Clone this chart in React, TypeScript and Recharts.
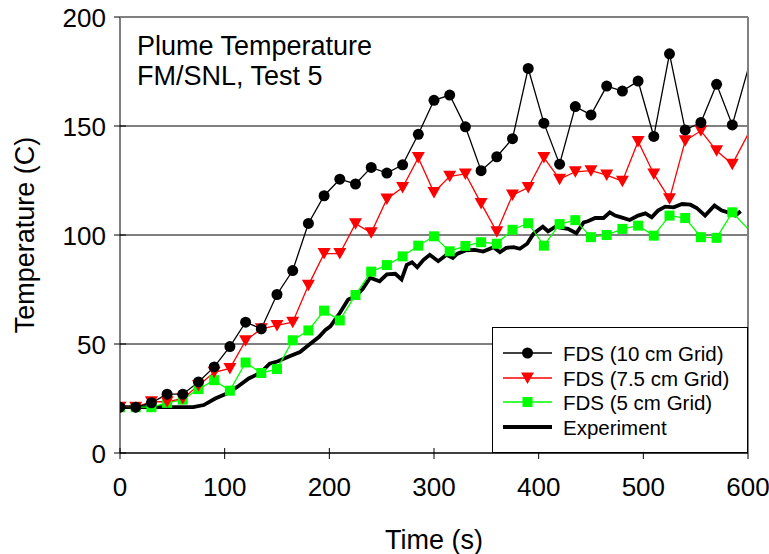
import { CartesianGrid, Line, LineChart, XAxis, YAxis } from "recharts";

const fdsTime = [
  0, 15, 30, 45, 60, 75, 90, 105, 120, 135, 150, 165, 180, 195, 210, 225, 240, 255, 270, 285, 300,
  315, 330, 345, 360, 375, 390, 405, 420, 435, 450, 465, 480, 495, 510, 525, 540, 555, 570, 585, 600
];
const fds10cm = [
  21, 21, 23, 27, 27, 32.6, 39.5, 48.8, 60, 57, 72.7, 83.7, 105.3, 118, 125.6, 123.4, 131, 128.4, 132.2, 146.2, 161.8,
  164.2, 149.6, 129.5, 135.9, 144.2, 176.4, 151.3, 132.5, 158.9, 155.1, 168.3, 166, 170.6, 145.2, 183.1, 148.2, 151.6, 169.1, 150.5, 176
];
const fds75cm = [
  21, 21, 23.5, 23.5, 25, 31, 37, 38.8, 51.5, 57, 58.5, 60, 76.9, 91.5, 91.5, 105.2, 101, 116.5, 121.8, 135.5, 119.5,
  126.9, 128, 114.5, 101.5, 118.3, 121.8, 135.5, 125.6, 129, 129.5, 127.5, 124.7, 142.9, 128, 116.6, 143.2, 147.8, 138.6, 132.5, 146.2
];
const fds5cm = [
  21, 21, 21, 23, 24.5, 29.3, 33.4, 28.6, 41.5, 36.7, 38.5, 51.7, 56.2, 65.3, 60.8, 72.5, 83.2, 86.2, 90.2, 95.1, 99.4,
  92.5, 95, 96.7, 96, 102.4, 105.4, 95.1, 105, 106.8, 99, 100, 102.8, 104.3, 99.7, 108.9, 107.8, 99, 98.7, 110.4, 102.8
];

const expTime = [
  0, 70, 80, 91, 102, 112, 123, 134, 143, 151, 162, 172, 180, 190, 196, 201, 210, 218, 225, 232, 239, 248, 255, 263,
  269, 274, 279, 284, 290, 296, 304, 312, 318, 322, 330, 339, 347, 357, 363, 369, 376, 382, 389, 395, 400, 404, 409,
  416, 422, 428, 436, 443, 447, 454, 462, 468, 473, 479, 487, 495, 502, 508, 514, 521, 529, 537, 545, 551, 559, 568,
  575, 581, 588, 593
];
const expTemp = [
  21, 21, 22, 25, 27.3, 30.3, 34.2, 36.7, 41, 42.1, 44.4, 46.3, 49.4, 53.2, 56.3, 58.1, 64.2, 70.4, 71.8, 75.3, 80.4,
  78.8, 81.9, 82.2, 79.6, 86.3, 87.5, 85.2, 88.6, 90.9, 88, 90.9, 89.5, 91.3, 92.9, 93.2, 92.4, 94.4, 92.1, 94.1, 94.4,
  93.7, 96, 100.5, 102.4, 103.8, 101.7, 103.8, 103.3, 102.8, 100.8, 105.8, 106.3, 107.8, 107.8, 110.4, 108.9, 108.1,
  106.9, 108.9, 109.9, 108.1, 111.2, 113, 112.7, 114.2, 113.9, 112.4, 108.9, 113.5, 111.2, 110.4, 108.9, 110.9
];

const xTicks = [0, 100, 200, 300, 400, 500, 600];
const yTicks = [0, 50, 100, 150, 200];

const legendItems = ["FDS (10 cm Grid)", "FDS (7.5 cm Grid)", "FDS (5 cm Grid)", "Experiment"];

const FONT = "'Liberation Sans', Arial, sans-serif";
const W = 769;
const H = 554;
const PLOT = { left: 120, right: 748, top: 17, bottom: 453 };

const toPoints = (xs: number[], ys: number[]) => xs.map((x, i) => ({ t: x, temp: ys[i] }));

const data10 = toPoints(fdsTime, fds10cm);
const data75 = toPoints(fdsTime, fds75cm);
const data5 = toPoints(fdsTime, fds5cm);
const dataExp = toPoints(expTime, expTemp);

function circleMark(cx: number, cy: number) {
  return <circle cx={cx} cy={cy} r={5.5} fill="#000" />;
}
function triangleMark(cx: number, cy: number) {
  return <path d={`M${cx - 6.5},${cy - 5.5} L${cx + 6.5},${cy - 5.5} L${cx},${cy + 6} Z`} fill="#ff0000" />;
}
function squareMark(cx: number, cy: number) {
  return <rect x={cx - 5} y={cy - 5} width={10} height={10} fill="#00ff00" />;
}

// the last sample sits on the right frame, Excel shows no marker there
function makeDot(mark: (cx: number, cy: number) => JSX.Element, count: number) {
  return (props: any) => {
    const { cx, cy, index } = props;
    if (index === count - 1 || cx == null || cy == null) return <g key={`d${index}`} />;
    return <g key={`d${index}`}>{mark(cx, cy)}</g>;
  };
}

function XTick(props: any) {
  const x = props.payload.coordinate;
  return (
    <g>
      <line x1={x} x2={x} y1={PLOT.bottom - 5} y2={PLOT.bottom + 6} stroke="#000" strokeWidth={1} />
      <text x={x} y={496} textAnchor="middle" fontSize={26} fontFamily={FONT} fill="#000">
        {props.payload.value}
      </text>
    </g>
  );
}

function YTick(props: any) {
  const y = props.payload.coordinate;
  return (
    <g>
      <line x1={PLOT.left - 6} x2={PLOT.left + 6} y1={y} y2={y} stroke="#000" strokeWidth={1} />
      <text x={106} y={y + 10} textAnchor="end" fontSize={26} fontFamily={FONT} fill="#000">
        {props.payload.value}
      </text>
    </g>
  );
}

export default function App() {
  const rowY = [353, 378, 402, 427];
  return (
    <div style={{ position: "absolute", left: 0, top: 0, width: W, height: H, background: "#fff" }}>
      <LineChart
        width={W}
        height={H}
        margin={{ top: PLOT.top, right: W - PLOT.right, bottom: H - PLOT.bottom - 40, left: PLOT.left - 60 }}
      >
        <CartesianGrid vertical={false} stroke="#000" strokeWidth={1} />
        <XAxis
          type="number"
          dataKey="t"
          domain={[0, 600]}
          ticks={xTicks}
          height={40}
          stroke="#000"
          tickLine={false}
          tick={<XTick />}
          allowDataOverflow
        />
        <YAxis
          type="number"
          dataKey="temp"
          domain={[0, 200]}
          ticks={yTicks}
          width={60}
          stroke="#000"
          tickLine={false}
          tick={<YTick />}
          allowDataOverflow
        />
        <Line
          data={dataExp}
          dataKey="temp"
          type="linear"
          stroke="#000"
          strokeWidth={3.8}
          dot={false}
          isAnimationActive={false}
        />
        <Line
          data={data5}
          dataKey="temp"
          type="linear"
          stroke="#00ff00"
          strokeWidth={1.3}
          dot={makeDot(squareMark, data5.length)}
          isAnimationActive={false}
        />
        <Line
          data={data75}
          dataKey="temp"
          type="linear"
          stroke="#ff0000"
          strokeWidth={1.3}
          dot={makeDot(triangleMark, data75.length)}
          isAnimationActive={false}
        />
        <Line
          data={data10}
          dataKey="temp"
          type="linear"
          stroke="#000"
          strokeWidth={1.3}
          dot={makeDot(circleMark, data10.length)}
          isAnimationActive={false}
        />
      </LineChart>

      <svg
        width={W}
        height={H}
        style={{ position: "absolute", left: 0, top: 0, pointerEvents: "none" }}
        fontFamily={FONT}
      >
        {/* frame on top and right */}
        <line x1={PLOT.left} x2={PLOT.right} y1={PLOT.top} y2={PLOT.top} stroke="#808080" strokeWidth={2} />
        <line x1={PLOT.right} x2={PLOT.right} y1={PLOT.top} y2={PLOT.bottom} stroke="#808080" strokeWidth={2} />

        <text x={137} y={55} fontSize={27}>Plume Temperature</text>
        <text x={137} y={85} fontSize={27}>FM/SNL, Test 5</text>

        <text x={434} y={549} fontSize={27} textAnchor="middle">Time (s)</text>
        <text x={34} y={235} fontSize={27} textAnchor="middle" transform="rotate(-90 34 235)">
          Temperature (C)
        </text>

        {/* legend */}
        <rect x={492.5} y={327.5} width={255} height={125} fill="#fff" stroke="#000" strokeWidth={1} />
        {legendItems.map((name, i) => {
          const y = rowY[i];
          const color = i === 1 ? "#ff0000" : i === 2 ? "#00ff00" : "#000";
          return (
            <g key={name}>
              <line x1={503} x2={552} y1={y} y2={y} stroke={color} strokeWidth={i === 3 ? 3.8 : 1.3} />
              {i === 0 && circleMark(527.5, y)}
              {i === 1 && triangleMark(527.5, y)}
              {i === 2 && squareMark(527.5, y)}
              <text x={563} y={y + 7.5} fontSize={20.5}>{name}</text>
            </g>
          );
        })}
      </svg>
    </div>
  );
}
